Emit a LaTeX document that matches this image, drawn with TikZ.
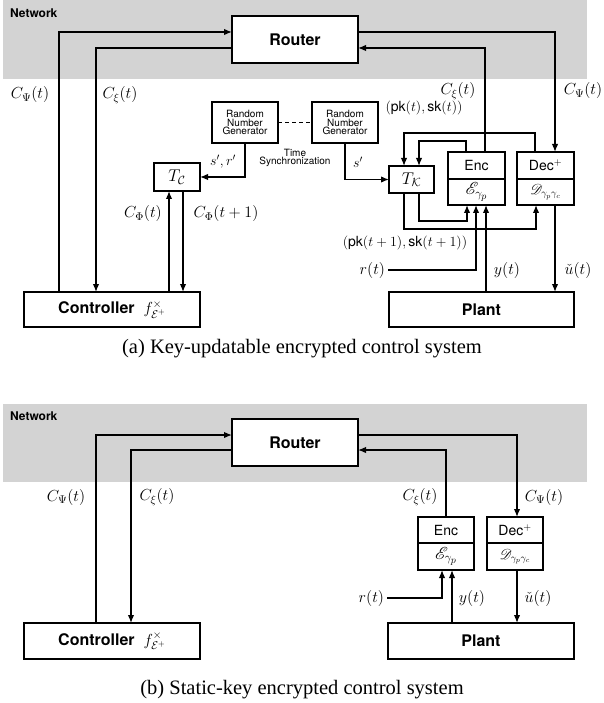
\RequirePackage{fix-cm}
\documentclass[tikz,border=0pt]{standalone}
\usepackage[no-math]{fontspec}
\setmainfont{Liberation Serif}
\setsansfont{TeX Gyre Heros}
\usepackage{mathrsfs}
\usetikzlibrary{arrows.meta}
\definecolor{netgray}{RGB}{211,211,211}
\begin{document}
\begin{tikzpicture}[x=1pt,y=-1pt,
  every node/.style={inner sep=0pt, outer sep=0pt},
  arr/.style={line width=1.4pt,-{Latex[length=8pt,width=6.5pt]}},
  box/.style={draw, line width=1.4pt, fill=white, inner sep=0pt},
  bigtxt/.style={font=\sffamily\bfseries\fontsize{16}{18}\selectfont},
  midtxt/.style={font=\sffamily\fontsize{14}{16}\selectfont},
  scrtxt/.style={font=\fontsize{17.28}{18}\selectfont},
  scrdtxt/.style={font=\fontsize{14.4}{16}\selectfont},
  smalltxt/.style={font=\sffamily\fontsize{10}{8.5}\selectfont, align=center},
  labtxt/.style={font=\fontsize{16}{18}\selectfont},
  klabtxt/.style={font=\fontsize{14}{16}\selectfont},
  tlabtxt/.style={font=\fontsize{17}{18}\selectfont},
  nettxt/.style={font=\sffamily\bfseries\fontsize{12}{14}\selectfont, anchor=west},
  captxt/.style={font=\fontsize{20.5}{24}\selectfont}
]
\useasboundingbox (0,0) rectangle (604,703);

% ---------------- (a) ----------------
\fill[netgray] (3,0) rectangle (587,79);
\node[nettxt] (neta) at (10,13) {Network};

\node[box, minimum width=126pt, minimum height=47pt, bigtxt] (router) at (295,39.5) {Router};
\node[box, minimum width=66pt, minimum height=41pt, smalltxt] (rngL) at (245,122.5) {Random\\Number\\Generator};
\node[box, minimum width=66pt, minimum height=41pt, smalltxt] (rngR) at (345,122.5) {Random\\Number\\Generator};
\node[smalltxt] (sync) at (295,158) {Time\\Synchronization};
\node[box, minimum width=46pt, minimum height=28pt, tlabtxt] (tc) at (177,177) {$T_{\mathcal{C}}$};
\node[box, minimum width=45pt, minimum height=27pt, tlabtxt] (tk) at (411.5,179.5) {$T_{\mathcal{K}}$};
\node[box, minimum width=57pt, minimum height=27pt, midtxt] (encA) at (476.5,165.5) {Enc};
\node[box, minimum width=57pt, minimum height=26pt, scrtxt] (encB) at (476.5,192) {$\mathscr{E}_{\gamma_p}$};
\node[box, minimum width=57pt, minimum height=27pt, midtxt] (decA) at (545.5,165.5) {Dec$^{+}$};
\node[box, minimum width=57pt, minimum height=26pt, scrdtxt] (decB) at (545.5,192) {$\mathscr{D}_{\gamma_p\gamma_c}$};
\node[box, minimum width=176pt, minimum height=35pt, font=\fontsize{16}{18}\selectfont] (ctrl) at (112,309.5) {\sffamily\bfseries Controller\ \ $f^{\times}_{\mathcal{E}^{+}}$};
\node[box, minimum width=185pt, minimum height=35pt, bigtxt] (plant) at (481.5,309.5) {Plant};

\draw[arr] (59,0 |- ctrl.north) |- (router.west |- 0,32);
\draw[arr] (router.west |- 0,48) -| (96,0 |- ctrl.north);
\draw[arr] (router.east |- 0,32) -| (555,0 |- decA.north);
\draw[arr] (485,0 |- encA.north) |- (router.east |- 0,48);

\node[labtxt] (psiL) at (30,95) {$C_{\Psi}(t)$};
\node[labtxt] (xiL) at (120,95) {$C_{\xi}(t)$};
\node[labtxt] (xiR) at (458,91) {$C_{\xi}(t)$};
\node[labtxt] (psiR) at (583,91) {$C_{\Psi}(t)$};

\draw[line width=1.2pt, dash pattern=on 4pt off 3pt] (rngL.east) -- (rngR.west);
\draw[arr] (rngL.south) |- (tc.east);
\node[klabtxt] (srL) at (223,162) {$s',r'$};
\draw[arr] (rngR.south) |- (tk.west);
\node[klabtxt] (sR) at (358,162) {$s'$};

\draw[arr] (169,0 |- ctrl.north) -- (169,0 |- tc.south);
\draw[arr] (183,0 |- tc.south) -- (183,0 |- ctrl.north);
\node[labtxt] (phiA) at (143,214) {$C_{\Phi}(t)$};
\node[labtxt] (phiB) at (226,214) {$C_{\Phi}(t+1)$};

\draw[arr] (535,0 |- decA.north) -- (535,133) -| (404,0 |- tk.north);
\draw[arr] (466,0 |- encA.north) -- (466,141) -| (419,0 |- tk.north);
\draw[arr] (419,0 |- tk.south) -- (419,221) -| (467,0 |- encB.south);
\draw[arr] (404,0 |- tk.south) -- (404,229) -| (536,0 |- decB.south);
\node[klabtxt] (pkA) at (424,108) {$(\textsf{pk}(t),\textsf{sk}(t))$};
\node[klabtxt] (pkB) at (405,243) {$(\textsf{pk}(t+1),\textsf{sk}(t+1))$};

\node[labtxt, anchor=east] (rlab) at (385,270) {$r(t)$};
\coordinate (rin) at (388,270);
\draw[arr] (rin) -| (476,0 |- encB.south);
\draw[arr] (486,0 |- plant.north) -- (486,0 |- encB.south);
\draw[arr] (555,0 |- decB.south) -- (555,0 |- plant.north);
\node[labtxt] (ylab) at (507,270) {$y(t)$};
\node[labtxt] (ulab) at (578,270) {$\check{u}(t)$};

\node[captxt] (capa) at (302,349) {(a) Key-updatable encrypted control system};

% ---------------- (b) ----------------
\fill[netgray] (3,404) rectangle (587,482);
\node[nettxt] (netb) at (10,416) {Network};

\node[box, minimum width=126pt, minimum height=47pt, bigtxt] (router2) at (295,442.5) {Router};
\node[box, minimum width=56pt, minimum height=26pt, midtxt] (enc2A) at (446,530) {Enc};
\node[box, minimum width=56pt, minimum height=27pt, scrtxt] (enc2B) at (446,556.5) {$\mathscr{E}_{\gamma_p}$};
\node[box, minimum width=56pt, minimum height=26pt, midtxt] (dec2A) at (515,530) {Dec$^{+}$};
\node[box, minimum width=56pt, minimum height=27pt, scrdtxt] (dec2B) at (515,556.5) {$\mathscr{D}_{\gamma_p\gamma_c}$};
\node[box, minimum width=176pt, minimum height=36pt, font=\fontsize{16}{18}\selectfont] (ctrl2) at (112,641) {\sffamily\bfseries Controller\ \ $f^{\times}_{\mathcal{E}^{+}}$};
\node[box, minimum width=186pt, minimum height=36pt, bigtxt] (plant2) at (481,641) {Plant};

\draw[arr] (96,0 |- ctrl2.north) |- (router2.west |- 0,435);
\draw[arr] (router2.west |- 0,450) -| (131,0 |- ctrl2.north);
\draw[arr] (router2.east |- 0,435) -| (517,0 |- dec2A.north);
\draw[arr] (446,0 |- enc2A.north) |- (router2.east |- 0,450);

\node[labtxt] (psiL2) at (66,497) {$C_{\Psi}(t)$};
\node[labtxt] (xiL2) at (157,497) {$C_{\xi}(t)$};
\node[labtxt] (xiR2) at (420,497) {$C_{\xi}(t)$};
\node[labtxt] (psiR2) at (544,497) {$C_{\Psi}(t)$};

\node[labtxt, anchor=east] (rlab2) at (384,598) {$r(t)$};
\coordinate (rin2) at (387,598);
\draw[arr] (rin2) -| (442,0 |- enc2B.south);
\draw[arr] (452,0 |- plant2.north) -- (452,0 |- enc2B.south);
\draw[arr] (517,0 |- dec2B.south) -- (517,0 |- plant2.north);
\node[labtxt] (ylab2) at (472,598) {$y(t)$};
\node[labtxt] (ulab2) at (538,598) {$\check{u}(t)$};

\node[captxt] (capb) at (302,690) {(b) Static-key encrypted control system};
\end{tikzpicture}
\end{document}
